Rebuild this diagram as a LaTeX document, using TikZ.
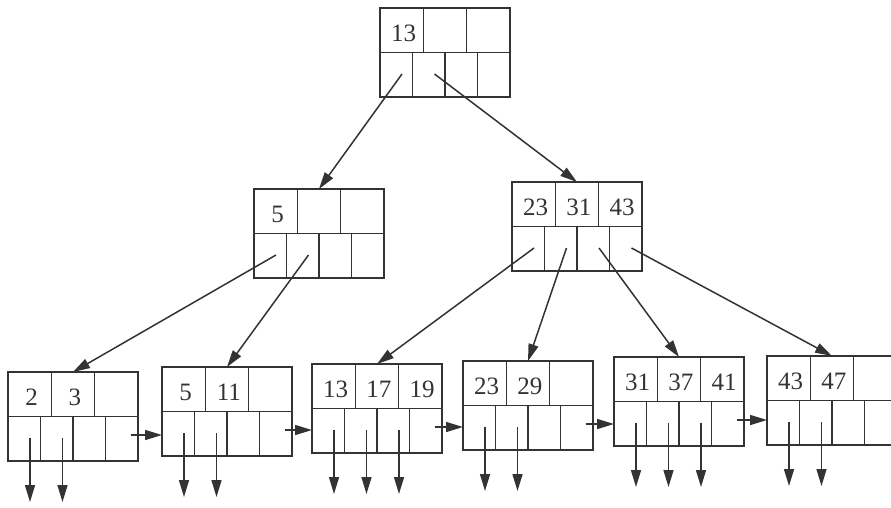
\documentclass[tikz,border=0pt]{standalone}
\usepackage{fontspec}
\setmainfont{Liberation Serif}
\usetikzlibrary{arrows.meta}
\definecolor{ink}{HTML}{333333}
\tikzset{
 bbox/.style={draw=ink, line width=1.8pt, minimum width=130pt, minimum height=89pt, inner sep=0pt, outer sep=0pt},
 gridline/.style={draw=ink, line width=1.6pt},
 keytext/.style={text=ink, font=\fontsize{25}{28}\selectfont, inner sep=0pt},
 arr/.style={draw=ink, line width=1.5pt, -{Triangle[length=17pt,width=10pt]}},
}
\newcommand\bpnode[6]{%
 \node[bbox, anchor=north west] (#1) at (#2,#3) {};
 \draw[gridline] (#1.west) -- (#1.east);
 \draw[gridline] ([shift={(43.33,0)}]#1.north west) -- ([shift={(43.33,44.5)}]#1.north west);
 \draw[gridline] ([shift={(86.67,0)}]#1.north west) -- ([shift={(86.67,44.5)}]#1.north west);
 \draw[gridline] ([shift={(32.5,44.5)}]#1.north west) -- ([shift={(32.5,89)}]#1.north west);
 \draw[gridline] ([shift={(65,44.5)}]#1.north west) -- ([shift={(65,89)}]#1.north west);
 \draw[gridline] ([shift={(97.5,44.5)}]#1.north west) -- ([shift={(97.5,89)}]#1.north west);
 \node[keytext] (#1-k1) at ([shift={(23.5,25)}]#1.north west) {#4};
 \node[keytext] (#1-k2) at ([shift={(66.8,25)}]#1.north west) {#5};
 \node[keytext] (#1-k3) at ([shift={(110.1,25)}]#1.north west) {#6};
 \coordinate (#1-p0) at ([shift={(22,66)}]#1.north west);
 \coordinate (#1-p1) at ([shift={(54.5,66)}]#1.north west);
 \coordinate (#1-p2) at ([shift={(87,66)}]#1.north west);
 \coordinate (#1-p3) at ([shift={(119.5,66)}]#1.north west);
 \coordinate (#1-n) at ([shift={(3,-3)}]#1-p3);
}
\newcommand\downarr[2]{%
 \coordinate (#1-e#2) at ([shift={(0,64)}]#1-p#2);
 \draw[arr] (#1-p#2) -- (#1-e#2);
}
\begin{document}
\begin{tikzpicture}[x=1pt,y=-1pt]
\useasboundingbox (0,0) rectangle (891,507);
% internal nodes
\bpnode{root}{380}{8}{13}{}{}
\bpnode{na}{254}{189}{5}{}{}
\bpnode{nb}{512}{182}{23}{31}{43}
% leaves
\bpnode{la}{8}{372}{2}{3}{}
\bpnode{lb}{162}{367}{5}{11}{}
\bpnode{lc}{312}{364}{13}{17}{19}
\bpnode{ld}{463}{361}{23}{29}{}
\bpnode{le}{614}{357}{31}{37}{41}
\bpnode{lf}{767}{356}{43}{47}{}
% tree pointers
\draw[arr] (root-p0) -- (na.north);
\draw[arr] (root-p1) -- (nb.north);
\draw[arr] (na-p0) -- (la.north);
\draw[arr] (na-p1) -- (lb.north);
\draw[arr] (nb-p0) -- (lc.north);
\draw[arr] (nb-p1) -- (ld.north);
\draw[arr] (nb-p2) -- (le.north);
\draw[arr] (nb-p3) -- (lf.north);
% leaf chain
\draw[arr] (la-n) -- (la-n -| lb.west);
\draw[arr] (lb-n) -- (lb-n -| lc.west);
\draw[arr] (lc-n) -- (lc-n -| ld.west);
\draw[arr] (ld-n) -- (ld-n -| le.west);
\draw[arr] (le-n) -- (le-n -| lf.west);
% record pointers
\downarr{la}{0}\downarr{la}{1}
\downarr{lb}{0}\downarr{lb}{1}
\downarr{lc}{0}\downarr{lc}{1}\downarr{lc}{2}
\downarr{ld}{0}\downarr{ld}{1}
\downarr{le}{0}\downarr{le}{1}\downarr{le}{2}
\downarr{lf}{0}\downarr{lf}{1}
\end{tikzpicture}
\end{document}
